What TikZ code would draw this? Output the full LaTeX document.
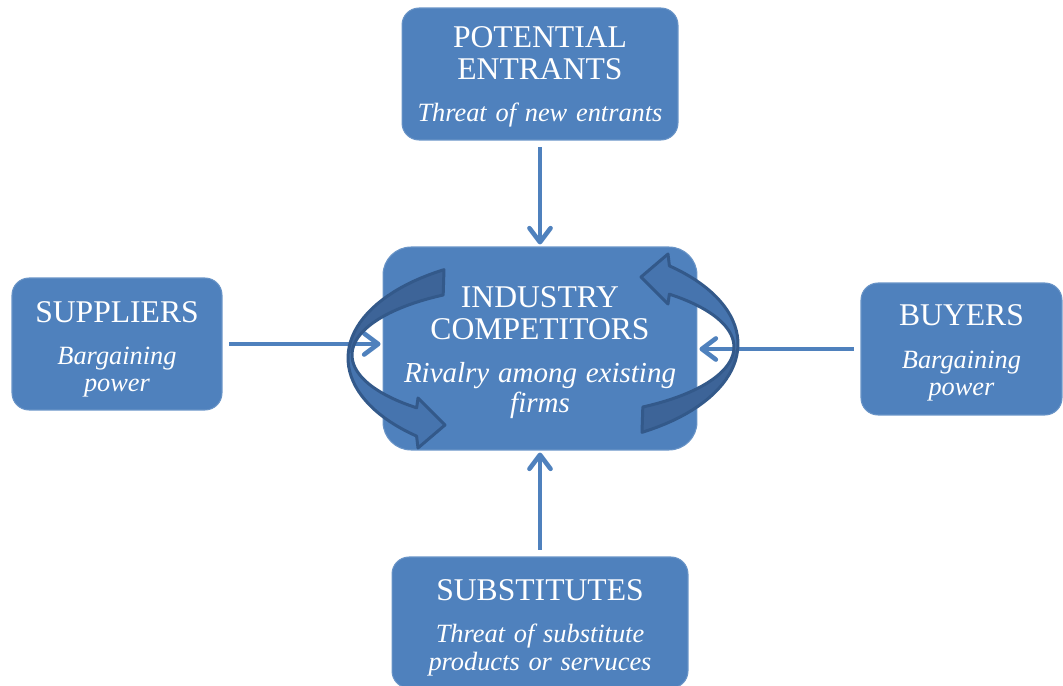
\documentclass[tikz,border=0pt]{standalone}
\usepackage{fontspec}
\setmainfont{Liberation Serif}
\usetikzlibrary{arrows.meta, positioning}

\definecolor{boxblue}{HTML}{4F81BD}
\definecolor{ringlight}{HTML}{4674AE}
\definecolor{ringdark}{HTML}{3D6498}
\definecolor{ringedge}{HTML}{33598A}

\newcommand\headfont{\fontsize{18}{15.5}\selectfont}
\newcommand\notefont{\fontsize{15}{15.5}\selectfont\itshape}
\newcommand\bignotefont{\fontsize{16.5}{15.5}\selectfont\itshape}
\newcommand\rivalryshape{plot[domain=240:130, samples=40] ({540+192*cos(\x)},{358+102*sin(\x)})
	-- (418,448) -- (445,425) -- (418,398)
	-- plot[domain=131:239, samples=40] ({540+188*cos(\x)},{355+70*sin(\x)}) -- cycle}

\begin{document}
\begin{tikzpicture}[x=0.02cm, y=-0.02cm]
	\tikzset{box/.style={rectangle, rounded corners=0.34cm, fill=boxblue, draw=boxblue!85!white, line width=0.6pt, inner sep=0pt},
		boxtext/.style={text=white, align=center, text width=6cm, inner sep=0pt, font=\fontsize{15}{15.5}\selectfont},
		force/.style={draw=boxblue, line width=2.6pt, -{Straight Barb[length=8pt, width=12pt, round]}, shorten <=0.13cm, shorten >=0.04cm}}
	\useasboundingbox (0,0) rectangle (1063,686);

	\node[box, minimum width=5.52cm, minimum height=2.64cm] (entrants) at (540,74) {};
	\node[box, rounded corners=0.56cm, minimum width=6.28cm, minimum height=4.06cm] (industry) at (540,348.5) {};
	\node[box, minimum width=4.2cm, minimum height=2.64cm] (suppliers) at (117,344) {};
	\node[box, minimum width=4.02cm, minimum height=2.64cm] (buyers) at (961.5,349) {};
	\node[box, minimum width=5.92cm, minimum height=2.62cm] (substitutes) at (540,622.5) {};

	\node[boxtext, below=0.374cm of entrants.north] (entrants-txt) {\headfont POTENTIAL\\[3pt]ENTRANTS\\[8.1pt]\notefont Threat of new entrants\par};
	\node[boxtext, below=0.794cm of industry.north] (industry-txt) {\headfont INDUSTRY\\[2.8pt]COMPETITORS\\[9.1pt]\bignotefont Rivalry among existing\\[1.5pt]firms\par};
	\node[boxtext, below=0.474cm of suppliers.north] (suppliers-txt) {\headfont SUPPLIERS\\[8.2pt]\notefont Bargaining\\power\par};
	\node[boxtext, below=0.44cm of buyers.north] (buyers-txt) {\headfont BUYERS\\[8.7pt]\notefont Bargaining\\power\par};
	\node[boxtext, below=0.446cm of substitutes.north] (substitutes-txt) {\headfont SUBSTITUTES\\[8.7pt]\notefont Threat of substitute\\[0.5pt]products or servuces\par};

	\draw[force] (entrants) -- (industry);
	\draw[force] (substitutes) -- (industry);
	\draw[force] (suppliers) -- (suppliers -| industry.west);
	\draw[force] (buyers) -- (buyers -| industry.east);

	\foreach \turn in {0,180} {
		\begin{scope}[rotate around={\turn:(543,351)}]
			\fill[ringlight] \rivalryshape;
			\begin{scope}
				\clip (300,200) rectangle (560,352);
				\fill[ringdark] \rivalryshape;
			\end{scope}
			\draw[ringedge, line width=1.7pt, line join=round] \rivalryshape;
		\end{scope}
	}
\end{tikzpicture}
\end{document}
